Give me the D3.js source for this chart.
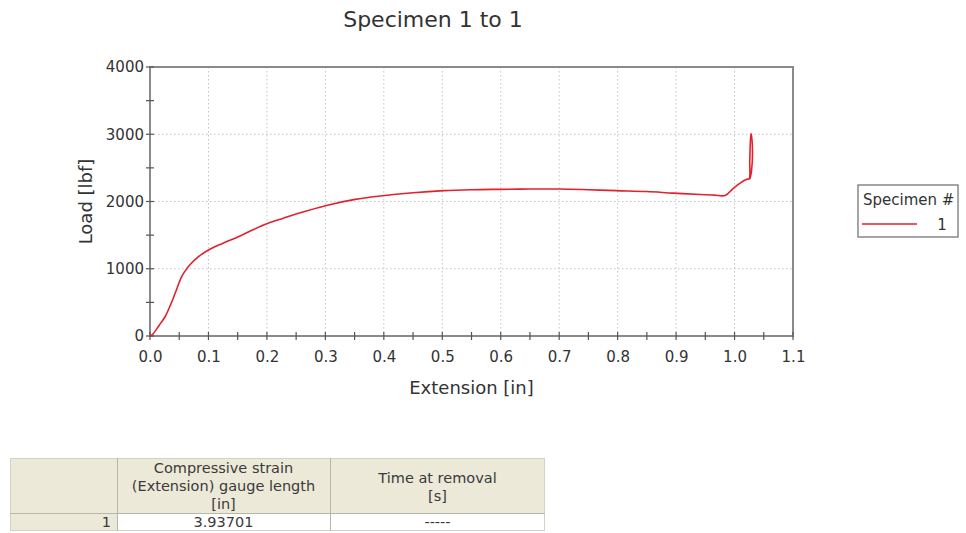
<!DOCTYPE html>
<html>
<head>
<meta charset="utf-8">
<script src="https://cdn.jsdelivr.net/npm/d3@7/dist/d3.min.js"></script>
<style>
  html, body { margin: 0; padding: 0; background: #fff; }
  svg { display: block; font-family: "DejaVu Sans", Verdana, sans-serif; }
</style>
</head>
<body>
<svg id="chart" width="966" height="533"></svg>
<script>
// Load vs. extension for specimen 1
const extension = [0, 0.004, 0.015, 0.026, 0.035, 0.043, 0.054, 0.062, 0.068, 0.083, 0.1, 0.125, 0.151, 0.175,
  0.202, 0.228, 0.254, 0.3, 0.351, 0.394, 0.45, 0.502, 0.55, 0.599, 0.65, 0.701, 0.75, 0.798, 0.85, 0.895,
  0.941, 0.965, 0.984, 0.998, 1.009, 1.021, 1.025, 1.026, 1.028, 1.03, 1.029, 1.026];
const load = [0, 20, 150, 290, 460, 635, 880, 990, 1056, 1180, 1279, 1380, 1477, 1575,
  1675, 1750, 1824, 1938, 2032, 2082, 2130, 2161, 2175, 2181, 2186, 2186, 2175, 2161, 2148, 2125,
  2105, 2095, 2090, 2196, 2270, 2330, 2340, 2600, 3010, 2900, 2450, 2330];

const xTicks = [0, 0.1, 0.2, 0.3, 0.4, 0.5, 0.6, 0.7, 0.8, 0.9, 1.0, 1.1];
const yTicks = [0, 1000, 2000, 3000, 4000];
const specimens = ["1"];

const tableHeaders = [[""], ["Compressive strain", "(Extension) gauge length", "[in]"], ["Time at removal", "[s]"]];
const tableRow = ["1", "3.93701", "-----"];

const svg = d3.select("#chart");
const plot = { left: 150, right: 793, top: 67, bottom: 336 };

const x = d3.scaleLinear().domain([0, 1.1]).range([plot.left, plot.right]);
const y = d3.scaleLinear().domain([0, 4000]).range([plot.bottom, plot.top]);

// title
svg.append("text").attr("x", 433).attr("y", 27).attr("text-anchor", "middle")
  .attr("font-size", 22).attr("fill", "#333").text("Specimen 1 to 1");

// dotted grid
const grid = svg.append("g").attr("stroke", "#c4c4c4").attr("stroke-width", 1).attr("stroke-dasharray", "1.5,2.5");
grid.selectAll("line.vx").data(xTicks.slice(1, -1)).join("line")
  .attr("x1", d => x(d)).attr("x2", d => x(d)).attr("y1", plot.top).attr("y2", plot.bottom);
grid.selectAll("line.hy").data(yTicks.slice(1, -1)).join("line")
  .attr("y1", d => y(d)).attr("y2", d => y(d)).attr("x1", plot.left).attr("x2", plot.right);

// frame
svg.append("rect").attr("x", plot.left).attr("y", plot.top)
  .attr("width", plot.right - plot.left).attr("height", plot.bottom - plot.top)
  .attr("fill", "none").attr("stroke", "#8a8a8a").attr("stroke-width", 2);

// axes
const xAxis = d3.axisBottom(x).tickValues(xTicks).tickFormat(d3.format(".1f")).tickSize(0).tickPadding(15);
const gx = svg.append("g").attr("transform", `translate(0,${plot.bottom})`).call(xAxis);
gx.select(".domain").remove();
gx.selectAll("text").attr("font-size", 15).attr("fill", "#333").attr("font-family", "DejaVu Sans, Verdana, sans-serif");

const yAxis = d3.axisLeft(y).tickValues(yTicks).tickFormat(d3.format("d")).tickSize(0).tickPadding(6);
const gy = svg.append("g").attr("transform", `translate(${plot.left},0)`).call(yAxis);
gy.select(".domain").remove();
gy.selectAll("text").attr("font-size", 15).attr("fill", "#333").attr("font-family", "DejaVu Sans, Verdana, sans-serif");

// tick marks crossing the axis lines (major and half steps)
const xMarks = d3.range(0, 23).map(i => i * 0.05);
svg.append("g").attr("stroke", "#555").attr("stroke-width", 1.2)
  .selectAll("line").data(xMarks).join("line")
  .attr("x1", d => x(d)).attr("x2", d => x(d))
  .attr("y1", plot.bottom - 4).attr("y2", plot.bottom + 4);
const yMarks = d3.range(0, 9).map(i => i * 500);
svg.append("g").attr("stroke", "#555").attr("stroke-width", 1.2)
  .selectAll("line").data(yMarks).join("line")
  .attr("y1", d => y(d)).attr("y2", d => y(d))
  .attr("x1", d => plot.left - 4).attr("x2", plot.left + 4);

// axis titles
svg.append("text").attr("x", (plot.left + plot.right) / 2).attr("y", 394).attr("text-anchor", "middle")
  .attr("font-size", 18).attr("fill", "#333").text("Extension [in]");
svg.append("text").attr("transform", `translate(92,${(plot.top + plot.bottom) / 2}) rotate(-90)`)
  .attr("text-anchor", "middle").attr("font-size", 18).attr("fill", "#333").text("Load [lbf]");

// curve
const pts = extension.map((e, i) => [e, load[i]]);
svg.append("path").datum(pts)
  .attr("fill", "none").attr("stroke", "#e3202c").attr("stroke-width", 1.6).attr("stroke-linejoin", "round")
  .attr("d", d3.line().x(d => x(d[0])).y(d => y(d[1])).curve(d3.curveCatmullRom.alpha(0.5)));

// legend
const lg = svg.append("g");
lg.append("rect").attr("x", 858).attr("y", 185).attr("width", 100).attr("height", 52)
  .attr("fill", "#fff").attr("stroke", "#888").attr("stroke-width", 1.5);
lg.append("text").attr("x", 863).attr("y", 205).attr("font-size", 15).attr("fill", "#333").text("Specimen #");
lg.selectAll("line.item").data(specimens).join("line")
  .attr("x1", 862).attr("x2", 917).attr("y1", (d, i) => 224 + i * 18).attr("y2", (d, i) => 224 + i * 18)
  .attr("stroke", "#e3202c").attr("stroke-width", 1.6);
lg.selectAll("text.item").data(specimens).join("text")
  .attr("x", 942).attr("y", (d, i) => 230 + i * 18).attr("text-anchor", "middle")
  .attr("font-size", 15).attr("fill", "#333").text(d => d);

// results table
const colX = [10, 117, 330, 545];
const headTop = 458, headBottom = 513, rowBottom = 531;
const tg = svg.append("g").attr("font-size", 14.5).attr("fill", "#3a3a3a");
tg.append("rect").attr("x", colX[0]).attr("y", headTop).attr("width", colX[3] - colX[0]).attr("height", headBottom - headTop)
  .attr("fill", "#ece9d8");
tg.append("rect").attr("x", colX[0]).attr("y", headBottom).attr("width", colX[1] - colX[0]).attr("height", rowBottom - headBottom)
  .attr("fill", "#ece9d8");
tg.append("rect").attr("x", colX[1]).attr("y", headBottom).attr("width", colX[3] - colX[1]).attr("height", rowBottom - headBottom)
  .attr("fill", "#fff");
const bc = "#b8b6a8";
tg.append("rect").attr("x", colX[0] + 0.5).attr("y", headTop + 0.5).attr("width", colX[3] - colX[0] - 1)
  .attr("height", rowBottom - headTop - 1).attr("fill", "none").attr("stroke", "#d4d2c6");
[colX[1], colX[2]].forEach(cx => tg.append("line").attr("x1", cx + 0.5).attr("x2", cx + 0.5)
  .attr("y1", headTop).attr("y2", rowBottom).attr("stroke", bc));

tableHeaders.forEach((lines, c) => {
  const cx = (colX[c] + colX[c + 1]) / 2;
  const n = lines.filter(l => l).length;
  const start = n === 3 ? 473 : 483;
  lines.forEach((l, k) => {
    if (!l) return;
    tg.append("text").attr("x", cx).attr("y", start + k * 18).attr("text-anchor", "middle").text(l);
  });
});
// row divider drawn over the header text
tg.append("line").attr("x1", colX[0]).attr("x2", colX[3]).attr("y1", headBottom + 0.5).attr("y2", headBottom + 0.5)
  .attr("stroke", bc);
tg.append("text").attr("x", colX[1] - 6).attr("y", 527).attr("text-anchor", "end").text(tableRow[0]);
tg.append("text").attr("x", (colX[1] + colX[2]) / 2).attr("y", 527).attr("text-anchor", "middle").text(tableRow[1]);
tg.append("text").attr("x", (colX[2] + colX[3]) / 2).attr("y", 527).attr("text-anchor", "middle").text(tableRow[2]);
</script>
</body>
</html>
